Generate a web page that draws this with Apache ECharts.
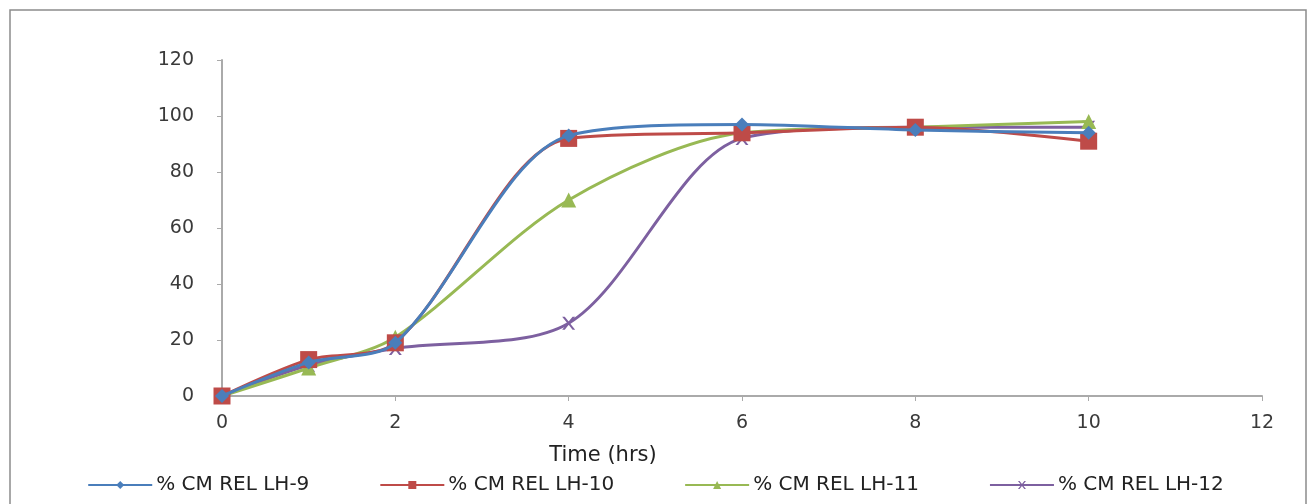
<!DOCTYPE html>
<html>
<head>
<meta charset="utf-8">
<script src="https://cdn.jsdelivr.net/npm/echarts@6/dist/echarts.min.js"></script>
<style>
  html, body { margin: 0; padding: 0; background: #fff; }
  #chart { width: 1311px; height: 504px; }
</style>
</head>
<body>
<div id="chart"></div>
<script>
// time points (hrs)
var hours = [0, 1, 2, 4, 6, 8, 10];
// cumulative % release
var lh9  = [0, 12, 19, 93, 97, 95, 94];
var lh10 = [0, 13, 19, 92, 94, 96, 91];
var lh11 = [0, 10, 21, 70, 94, 96, 98];
var lh12 = [0, 11, 17, 26, 92, 96, 96];
var names = ['% CM REL LH-9', '% CM REL LH-10', '% CM REL LH-11', '% CM REL LH-12'];
var colors = ['#4a7ebb', '#be4b48', '#98b954', '#7d60a0'];

function pairs(arr) {
  return hours.map(function (h, i) { return [h, arr[i]]; });
}

var crossPath = 'path://M0,0 L2,0 L5,3 L8,0 L10,0 L6,4 L10,8 L8,8 L5,5 L2,8 L0,8 L4,4 Z';

var chart = echarts.init(document.getElementById('chart'));
var tickFont = { fontFamily: 'DejaVu Sans', fontSize: 19, color: '#3a3a3a' };

function makeSeries(i, data, symbol, size) {
  return {
    name: names[i],
    type: 'line',
    smooth: 0.3,
    data: pairs(data),
    symbol: symbol,
    symbolSize: size,
    lineStyle: { width: 3, color: colors[i] },
    itemStyle: { color: colors[i] },
    z: 10 - i
  };
}

var option = {
  animation: false,
  backgroundColor: '#fff',
  graphic: [
    {
      type: 'rect',
      shape: { x: 10, y: 10, width: 1296, height: 510 },
      style: { fill: 'none', stroke: '#8c8c8c', lineWidth: 1.5 },
      silent: true
    },
    {
      type: 'text',
      x: 603, y: 456,
      style: {
        text: 'Time (hrs)', fontFamily: 'DejaVu Sans', fontSize: 21,
        fill: '#222', align: 'center', verticalAlign: 'middle'
      }
    }
  ],
  grid: { left: 222, right: 49, top: 60, bottom: 108 },
  legend: {
    bottom: 4,
    left: 'center',
    itemWidth: 64,
    itemHeight: 10,
    itemGap: 70,
    textStyle: { fontFamily: 'DejaVu Sans', fontSize: 20, color: '#222', padding: [0, 0, 0, -1] },
    data: names
  },
  xAxis: {
    type: 'value',
    min: 0, max: 12, interval: 2,
    axisLine: { lineStyle: { color: '#aaa', width: 2 } },
    axisTick: { show: true, length: 5, lineStyle: { color: '#aaa' } },
    splitLine: { show: false },
    axisLabel: Object.assign({ margin: 18 }, tickFont)
  },
  yAxis: {
    type: 'value',
    min: 0, max: 120, interval: 20,
    axisLine: { show: true, lineStyle: { color: '#aaa', width: 2 } },
    axisTick: { show: true, length: 5, lineStyle: { color: '#aaa' } },
    splitLine: { show: false },
    axisLabel: Object.assign({ margin: 28 }, tickFont)
  },
  series: [
    makeSeries(0, lh9, 'diamond', 14),
    makeSeries(1, lh10, 'rect', 17),
    makeSeries(2, lh11, 'triangle', 15),
    makeSeries(3, lh12, crossPath, 13)
  ]
};
chart.setOption(option);
</script>
</body>
</html>
